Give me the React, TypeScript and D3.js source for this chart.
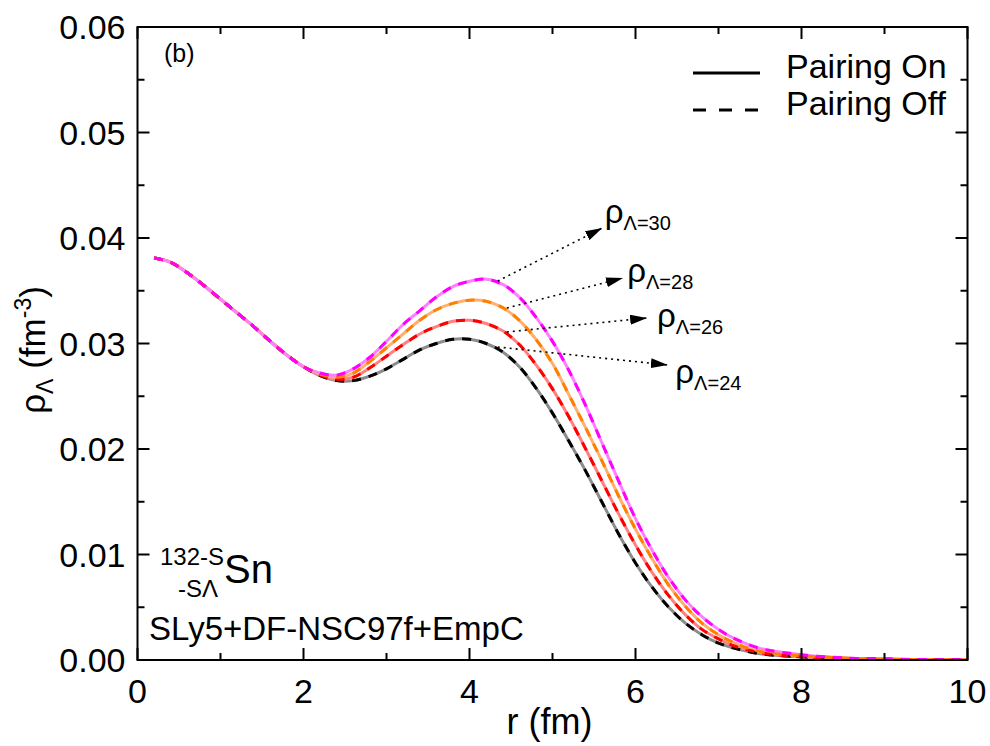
import React from "react";
import * as d3 from "d3";

// ---- data ----
const rGrid = [0.2,0.4,0.6,0.8,1.0,1.2,1.4,1.6,1.8,2.0,2.2,2.4,2.6,2.8,3.0,3.2,3.4,3.6,3.8,4.0,4.2,4.4,4.6,4.8,5.0,5.2,5.4,5.6,5.8,6.0,6.2,6.4,6.6,6.8,7.0,7.2,7.5,8.0,8.5,9.0,9.5,10.0];
const head = [0.0381,0.0377,0.0367,0.0355,0.0342,0.0329,0.0316,0.0302,0.0289,0.0278];
const rho24 = [...head,0.02695,0.02648,0.02648,0.0269,0.0276,0.0285,0.0294,0.0300,0.0304,0.0304,0.0300,0.0292,0.0278,0.0258,0.0234,0.0207,0.0179,0.0149,0.0119,0.0092,0.0069,0.0050,0.0035,0.0024,0.0016,0.0011,0.0006,0.0003,0.00015,0.00007,0.00003,0.00001];
const rho26 = [...head,0.0270,0.0266,0.0268,0.0277,0.0288,0.0299,0.0309,0.0316,0.0321,0.0322,0.0319,0.0312,0.0299,0.0280,0.0257,0.0230,0.0200,0.0169,0.0138,0.0109,0.0083,0.0061,0.0043,0.0029,0.0020,0.0013,0.0007,0.0003,0.00015,0.00007,0.00003,0.00001];
const rho28 = [...head,0.0271,0.0268,0.0272,0.0283,0.0296,0.0309,0.0322,0.0332,0.0338,0.0341,0.0340,0.0334,0.0322,0.0304,0.0281,0.0251,0.0220,0.0188,0.0155,0.0124,0.0096,0.0071,0.0051,0.0035,0.0024,0.0016,0.0008,0.0004,0.0002,0.00008,0.00003,0.00001];
const rho30 = [...head,0.0272,0.0270,0.0276,0.0287,0.0302,0.0318,0.0331,0.0344,0.0354,0.0359,0.0361,0.0356,0.0344,0.0325,0.0302,0.0274,0.0241,0.0205,0.0169,0.0134,0.0104,0.0078,0.0057,0.0041,0.0029,0.0020,0.0011,0.0005,0.0002,0.0001,0.00004,0.00001];

const seriesData = [rho24, rho26, rho28, rho30];
const colorsOn = ["#8c8c8c","#ff8080","#ffb070","#ff80ff"];
const colorsOff = ["#000000","#ff0000","#ff8000","#ff00ff"];

const xTicks = [0,2,4,6,8,10];
const xMinor = [1,3,5,7,9];
const yTicks = [0,0.01,0.02,0.03,0.04,0.05,0.06];
const yMinor = [0.005,0.015,0.025,0.035,0.045,0.055];

// annotations: [label, startR, startV, tipR, tipV, textR, textV]
const annotations: [string, number, number, number, number, number, number][] = [
  ["30", 4.34, 0.03592, 5.60, 0.04095, 5.63, 0.0414],
  ["28", 4.45, 0.03336, 5.85, 0.03621, 5.90, 0.0358],
  ["26", 4.45, 0.03109, 6.14, 0.03242, 6.26, 0.03156],
  ["24", 4.34, 0.02967, 6.39, 0.02796, 6.48, 0.02626],
];

const W = 990, H = 746;
const L = 137.5, R = 967.5, T = 27, B = 660;
const FONT = "'Liberation Sans', Arial, Helvetica, sans-serif";

export default function App() {
  const x = d3.scaleLinear().domain([0, 10]).range([L, R]);
  const y = d3.scaleLinear().domain([0, 0.06]).range([B, T]);
  const line = d3.line<number>().x((_, i) => x(rGrid[i])).y(d => y(d)).curve(d3.curveCatmullRom.alpha(0.5));

  return (
    <svg width={W} height={H} style={{ position: "absolute", left: 0, top: 0, background: "#fff" }} fontFamily={FONT}>
      <defs>
        <marker id="arr" viewBox="0 0 17 10" refX="17" refY="5" markerWidth="17" markerHeight="10" markerUnits="userSpaceOnUse" orient="auto">
          <path d="M0,0 L17,5 L0,10 Z" fill="#000" />
        </marker>
        <clipPath id="clip"><rect x={L} y={T} width={R - L} height={B - T} /></clipPath>
      </defs>
      <rect x={0} y={0} width={W} height={H} fill="#fff" />
      {/* curves */}
      <g clipPath="url(#clip)" fill="none">
        {seriesData.map((d, i) => (
          <path key={"on" + i} d={line(d) || ""} stroke={colorsOn[i]} strokeWidth={3} />
        ))}
        {seriesData.map((d, i) => (
          <path key={"off" + i} d={line(d) || ""} stroke={colorsOff[i]} strokeWidth={3} strokeDasharray="9,8" />
        ))}
      </g>
      {/* frame */}
      <rect x={L} y={T} width={R - L} height={B - T} fill="none" stroke="#000" strokeWidth={2} />
      {/* ticks */}
      {xTicks.map(t => (
        <g key={"xt" + t}>
          <line x1={x(t)} x2={x(t)} y1={B} y2={B - 12} stroke="#000" strokeWidth={2} />
          <line x1={x(t)} x2={x(t)} y1={T} y2={T + 12} stroke="#000" strokeWidth={2} />
          <text x={x(t)} y={B + 43} fontSize={34} textAnchor="middle">{t}</text>
        </g>
      ))}
      {xMinor.map(t => (
        <g key={"xm" + t}>
          <line x1={x(t)} x2={x(t)} y1={B} y2={B - 7} stroke="#000" strokeWidth={2} />
          <line x1={x(t)} x2={x(t)} y1={T} y2={T + 7} stroke="#000" strokeWidth={2} />
        </g>
      ))}
      {yTicks.map(t => (
        <g key={"yt" + t}>
          <line x1={L} x2={L + 12} y1={y(t)} y2={y(t)} stroke="#000" strokeWidth={2} />
          <line x1={R} x2={R - 12} y1={y(t)} y2={y(t)} stroke="#000" strokeWidth={2} />
          <text x={L - 12} y={y(t) + 12} fontSize={34} textAnchor="end">{d3.format(".2f")(t)}</text>
        </g>
      ))}
      {yMinor.map(t => (
        <g key={"ym" + t}>
          <line x1={L} x2={L + 7} y1={y(t)} y2={y(t)} stroke="#000" strokeWidth={2} />
          <line x1={R} x2={R - 7} y1={y(t)} y2={y(t)} stroke="#000" strokeWidth={2} />
        </g>
      ))}
      {/* axis titles */}
      <text x={(L + R) / 2 - 3} y={734} fontSize={36} textAnchor="middle">r (fm)</text>
      <text transform={`translate(45,350) rotate(-90)`} fontSize={35} textAnchor="middle">
        ρ<tspan fontSize={23} dy={8}>Λ</tspan><tspan dy={-8}> (fm</tspan><tspan fontSize={23} dy={-14}>-3</tspan><tspan dy={14}>)</tspan>
      </text>
      {/* panel label */}
      <text x={164} y={62} fontSize={25}>(b)</text>
      {/* legend */}
      <line x1={693} x2={760} y1={73} y2={73} stroke="#000" strokeWidth={3} />
      <text x={786} y={78} fontSize={34}>Pairing On</text>
      <line x1={693} x2={760} y1={110} y2={110} stroke="#000" strokeWidth={3} strokeDasharray="13,13" />
      <text x={786} y={115} fontSize={34}>Pairing Off</text>
      {/* annotations */}
      {annotations.map(([lab, r0, v0, r1, v1, rt, vt]) => (
        <g key={"an" + lab}>
          <line x1={x(r0)} y1={y(v0)} x2={x(r1)} y2={y(v1)} stroke="#000" strokeWidth={1.6} strokeDasharray="2,4" markerEnd="url(#arr)" />
          <text x={x(rt)} y={y(vt)} fontSize={33}>ρ<tspan fontSize={20} dy={7}>{"Λ=" + lab}</tspan></text>
        </g>
      ))}
      {/* nucleus label */}
      <text x={160} y={565} fontSize={24}>132-S</text>
      <text x={178} y={597} fontSize={24}>-SΛ</text>
      <text x={224} y={583} fontSize={40}>Sn</text>
      <text x={149} y={640} fontSize={33}>SLy5+DF-NSC97f+EmpC</text>
    </svg>
  );
}
